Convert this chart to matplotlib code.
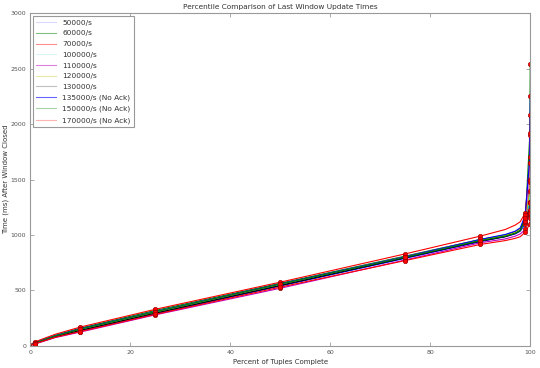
import matplotlib
matplotlib.use('Agg')
import matplotlib.pyplot as plt

# percentiles where each run was sampled
pcts = [0, 1, 5, 10, 25, 50, 75, 90, 95, 97, 98, 99, 99.9, 100]
# percentiles that get a red marker
marked = [1, 10, 25, 50, 75, 90, 99, 99.9, 100]

labels = ['50000/s', '60000/s', '70000/s', '100000/s', '110000/s', '120000/s',
          '130000/s', '135000/s (No Ack)', '150000/s (No Ack)', '170000/s (No Ack)']

t_50k = [5, 22, 80, 135, 290, 540, 790, 940, 985, 1010, 1035, 1100, 1200, 1300]
t_60k = [8, 30, 95, 160, 320, 565, 810, 960, 1000, 1030, 1060, 1130, 1900, 2540]
t_70k = [10, 38, 105, 170, 330, 575, 830, 990, 1050, 1090, 1120, 1200, 1650, 2080]
t_100k = [6, 25, 85, 145, 300, 550, 800, 950, 995, 1020, 1045, 1120, 1300, 1480]
t_110k = [4, 18, 75, 125, 280, 520, 775, 930, 965, 990, 1010, 1050, 1500, 1920]
t_120k = [6, 26, 88, 150, 305, 555, 805, 955, 995, 1025, 1050, 1130, 1400, 1650]
t_130k = [5, 24, 82, 140, 295, 545, 795, 945, 985, 1015, 1040, 1160, 1230, 1290]
t_135k = [7, 28, 92, 155, 310, 560, 805, 960, 1005, 1035, 1065, 1180, 1700, 2250]
t_150k = [6, 27, 90, 152, 308, 558, 800, 950, 990, 1015, 1040, 1150, 1180, 1200]
t_170k = [5, 20, 78, 130, 285, 530, 770, 915, 950, 970, 985, 1027, 1100, 1150]

series = [t_50k, t_60k, t_70k, t_100k, t_110k, t_120k, t_130k, t_135k, t_150k, t_170k]
colors = ['b', 'g', 'r', 'c', 'm', 'y', 'k', 'b', 'g', 'r']
legend_alpha = [0.15, 0.5, 0.45, 0.15, 0.5, 0.35, 0.25, 0.6, 0.35, 0.3]

fs = 5
fig = plt.figure(figsize=(5.4, 3.68), dpi=100)
ax = fig.add_axes([0.056, 0.06, 0.926, 0.904])

for vals, c, lab in zip(series, colors, labels):
    ax.plot(pcts, vals, color=c, lw=0.8, label=lab)

for vals in series:
    mx = [p for p in pcts if p in marked]
    my = [v for p, v in zip(pcts, vals) if p in marked]
    ax.plot(mx, my, 'o', color='red', ms=3.2, mec='#880000', mew=0.4)

ax.set_xlim(0, 100)
ax.set_ylim(0, 3000)
ax.set_xticks([0, 20, 40, 60, 80, 100])
ax.set_yticks([0, 500, 1000, 1500, 2000, 2500, 3000])
ax.tick_params(direction='in', top=True, right=True, labelsize=fs - 0.5,
               colors='#888888', labelcolor='#555555', length=3, width=0.5, pad=3)
for s in ax.spines.values():
    s.set_color('#999999')
    s.set_linewidth(0.8)

ax.set_title('Percentile Comparison of Last Window Update Times', fontsize=fs + 0.3, color='#333333', pad=3)
ax.set_xlabel('Percent of Tuples Complete', fontsize=fs, color='#333333')
ax.set_ylabel('Time (ms) After Window Closed', fontsize=fs, color='#333333')
ax.xaxis.set_label_coords(0.5, -0.038)
ax.yaxis.set_label_coords(-0.042, 0.5)

leg = ax.legend(loc='upper left', fontsize=fs + 0.3, fancybox=False, handlelength=2.6,
                labelspacing=0.62, borderpad=0.45, handletextpad=0.9,
                edgecolor='#999999', framealpha=1, borderaxespad=0.4)
leg.get_frame().set_linewidth(0.8)
for line, a in zip(leg.get_lines(), legend_alpha):
    line.set_alpha(a)
for t in leg.get_texts():
    t.set_color('#333333')

fig.savefig('out.png', dpi=100)
